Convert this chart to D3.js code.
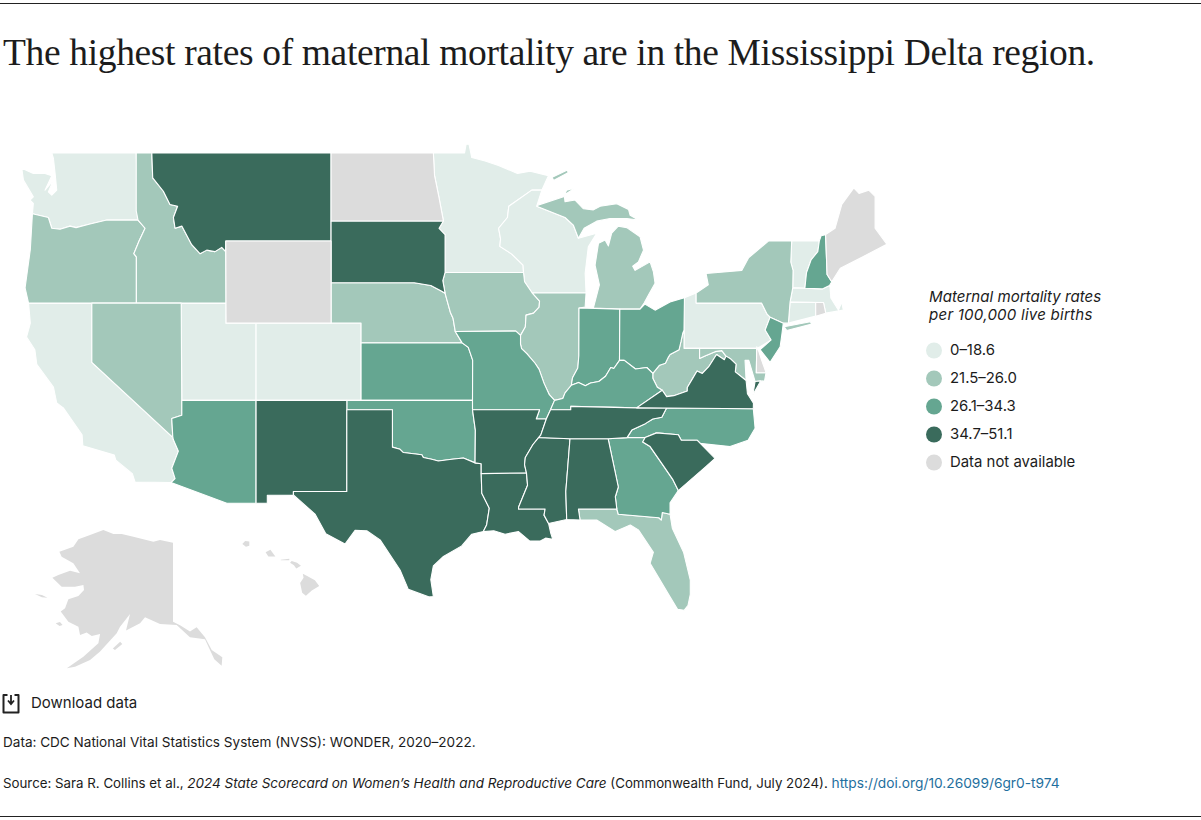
<!DOCTYPE html>
<html>
<head>
<meta charset="utf-8">
<script src="https://cdn.jsdelivr.net/npm/d3@7"></script>
<style>
  body { margin: 0; background: #fff; }
  text { font-family: Inter, "Liberation Sans", sans-serif; fill: #1c1c1c; }
</style>
</head>
<body>
<div class="chart"></div>
<script>
var width = 1201
  , height = 820
  ;

// rate groups, same order as the legend
var legendLabels = ["0–18.6", "21.5–26.0", "26.1–34.3", "34.7–51.1", "Data not available"];
var groupColors = ["#e1ede9", "#a3c8ba", "#65a691", "#3a6b5c", "#dcdcdc"];
var group0 = ["WA", "CA", "UT", "CO", "MN", "WI", "PA", "VT", "MA", "CT"];
var group1 = ["OR", "ID", "NV", "NE", "IA", "IL", "MI", "MI2", "MI3", "NY", "NY2", "WV", "MD", "FL"];
var group2 = ["AZ", "KS", "OK", "MO", "IN", "OH", "KY", "NC", "GA", "NJ", "NH"];
var group3 = ["MT", "SD", "NM", "TX", "AR", "LA", "MS", "AL", "TN", "SC", "VA", "VA2"];
var group4 = ["ND", "WY", "ME", "RI", "DE"];

// shared borders, lon/lat
var columbia = [[-123.96,46.27],[-122.9,46.1],[-122.67,45.6],[-122.12,45.55],[-121.45,45.7],[-121.05,45.63],[-120.12,45.8],[-119,45.98],[-116.92,45.98]];
var snake = [[-116.92,45.98],[-116.45,45.6],[-116.85,45],[-117.2,44.4],[-117.03,44.25],[-117.03,42]];
var idmt = [[-116,49],[-115.94,47.9],[-115.23,47.3],[-114.79,46.7],[-114.28,46.62],[-114.56,46.1],[-114.45,45.6],[-114,45.7],[-113.34,44.83],[-112.79,44.4],[-112.34,44.57],[-111.79,44.5],[-111.34,44.7],[-111.07,44.5]];
var wabash = [[-87.52,41.76],[-87.53,39.35],[-87.6,38.7],[-87.95,38.2],[-88.03,37.8]];
var ohioWest = [[-89.15,37],[-88.6,37.1],[-88.45,37.4],[-88.03,37.8]];
var ohioMid = [[-88.03,37.8],[-87.55,37.95],[-87.1,37.78],[-86.75,37.92],[-86.2,38],[-85.75,38.27],[-85.4,38.73],[-85.2,38.68],[-84.82,39.1]];
var ohioEast1 = [[-84.82,39.1],[-84.5,39.1],[-83.75,38.65],[-83,38.73],[-82.6,38.42]];
var ohioEast2 = [[-82.6,38.42],[-82.15,38.85],[-81.76,38.95],[-81.56,39.27],[-81.45,39.4],[-80.85,39.65],[-80.72,40.07],[-80.6,40.5],[-80.52,40.64]];
var tug = [[-82.6,38.42],[-82.6,38.17],[-82.3,37.7],[-81.97,37.54]];
var vaWv = [[-81.97,37.54],[-81.68,37.2],[-81.2,37.25],[-80.3,37.5],[-80.3,37.68],[-79.95,38.15],[-79.65,38.55],[-79.3,38.42],[-78.87,38.77],[-78.35,39.4],[-77.83,39.13],[-77.72,39.32]];
var missA = [[-90.64,42.5],[-90.15,42.1],[-90.18,41.8],[-90.55,41.5],[-91.05,41.4],[-91.1,40.8],[-91.42,40.38]];
var missB = [[-91.42,40.38],[-91.42,39.93],[-91.35,39.7],[-91,39.45],[-90.45,38.95],[-90.18,38.63],[-89.85,37.9],[-89.5,37.3],[-89.15,37]];
var missC = [[-89.7,36],[-90.07,35.13],[-90.2,35]];
var missD = [[-90.2,35],[-90.6,34.6],[-91.1,33.9],[-91.15,33.5],[-91.02,33.03]];
var missE = [[-91.02,33.03],[-90.95,32.35],[-91.55,31.1],[-91.55,31],[-89.78,31],[-89.85,30.65],[-89.55,30.17]];
var missouri = [[-96.45,42.49],[-96.1,41.55],[-95.92,41.25],[-95.77,40.58],[-95.31,40],[-94.9,39.77],[-94.61,39.11]];
var redRiver = [[-94.45,33.6],[-95.23,33.87],[-96,33.8],[-96.9,33.7],[-97.34,33.8],[-97.9,33.9],[-98,34.05],[-99.23,34.17],[-99.45,34.35],[-99.96,34.47]];
var sabine = [[-94.04,33],[-94,31.9],[-93.5,31.05],[-93.68,30.08],[-93.9,29.7]];
var savannah = [[-83.11,35],[-83.27,34.75],[-82.78,34.5],[-81.9,33.45],[-81.25,32.65],[-80.9,32.05]];
var ncSc = [[-83.11,35],[-82.35,35.25],[-80.9,35.15],[-80.7,34.85],[-79.65,34.85],[-78.45,33.85]];
var tnNc = [[-84.32,34.99],[-84,35.4],[-83.1,35.75],[-82.6,36],[-82,36.1],[-81.68,36.59]];
var mnWi = [[-92.2,46.62],[-92.29,46.1],[-92.88,45.6],[-92.75,45.1],[-92.8,44.75],[-92,44.38],[-91.25,43.85],[-91.22,43.5]];
var redNorth = [[-97.23,49],[-97.15,48],[-96.85,47],[-96.56,45.94]];
var sdMn = [[-96.56,45.94],[-96.85,45.6],[-96.45,45.3],[-96.45,43.5]];
var sdNe = [[-96.45,42.49],[-96.7,42.6],[-97.4,42.87],[-98.5,43],[-104.05,43]];

function rev(a) { return a.slice().reverse(); }

var shapes = {
  WA: [[-122.67,49],[-117.04,49],[-116.92,45.98]].concat(rev(columbia).slice(1), [[-123.9,46.75],[-124.12,46.9],[-123.9,47.05],[-124.56,47.8],[-124.67,48.33],[-123.9,48.1],[-123.12,48.1],[-122.67,48],[-123.12,47.35],[-122.56,47.8],[-122.9,47.27],[-122.67,47.12],[-122.34,47.35],[-122.45,48.1],[-122.56,48.76]]),
  OR: columbia.concat(snake.slice(1), [[-124.22,42],[-124.45,42.75],[-124.1,44.6]]),
  CA: [[-124.22,42],[-120,42],[-120,39],[-114.6,35],[-114.56,34.87],[-114.23,34.25],[-114.67,33.3],[-114.45,32.72],[-114.72,32.5],[-117.12,32.53],[-117.3,33],[-118.4,33.75],[-118.5,34.03],[-120.6,34.55],[-120.65,35.15],[-121.9,36.6],[-122.34,36.86],[-122.56,37.7],[-123.67,38.9],[-123.8,39.65],[-124.35,40.3],[-124.1,41]],
  NV: [[-120,42],[-114.04,42],[-114,36.2],[-114.67,36.03],[-114.6,35],[-120,39]],
  ID: [[-117.04,49],[-116,49]].concat(idmt.slice(1), [[-111.05,42]], rev(snake).slice(0, 6), [[-117.04,46.4]]),
  MT: idmt.concat([[-111.07,45],[-104.05,45],[-104.05,49]]),
  WY: [[-111.07,45],[-104.05,45],[-104.05,41],[-111.05,41]],
  UT: [[-114.04,42],[-111.05,42],[-111.05,41],[-109.05,41],[-109.05,37],[-114,37]],
  CO: [[-109.05,41],[-102.05,41],[-102.05,37],[-109.05,37]],
  AZ: [[-114,37],[-109.05,37],[-109.05,31.33],[-111,31.33],[-114.72,32.5],[-114.45,32.72],[-114.67,33.3],[-114.23,34.25],[-114.56,34.87],[-114.6,35],[-114.67,36.03],[-114,36.2]],
  NM: [[-109.05,37],[-103,37],[-103,32],[-106.56,32],[-106.56,31.8],[-108.3,31.78],[-108.3,31.33],[-109.05,31.33]],
  ND: [[-104.05,49]].concat(redNorth, [[-104.05,45.94]]),
  SD: [[-104.05,45.94]].concat(sdMn, [[-96.6,43.1]], sdNe),
  NE: rev(sdNe).concat(missouri.slice(1, 5), [[-102.05,40],[-102.05,41],[-104.05,41]]),
  KS: [[-102.05,40],[-95.31,40],[-94.9,39.77],[-94.61,39.11],[-94.62,37],[-102.05,37]],
  OK: [[-103,37],[-94.62,37],[-94.62,36.5],[-94.43,35.4]].concat(redRiver, [[-99.96,36.5],[-103,36.5]]),
  TX: [[-103,36.5],[-99.96,36.5]].concat(rev(redRiver), [[-94.04,33.55]], sabine, [[-94.67,29.55],[-95.34,28.87],[-96.56,28.25],[-97.23,27.7],[-97.4,26.88],[-97.23,25.87],[-97.5,25.85],[-98.9,26.3],[-99.45,27.45],[-100.78,29.22],[-101.67,29.75],[-102.45,29.77],[-103.12,28.98],[-104.4,29.57],[-105.12,30.71],[-106.56,31.8],[-106.56,32],[-103,32]]),
  MN: [[-97.23,49],[-95.15,49],[-95.05,49.38],[-94.85,49.38],[-94.67,48.8],[-93.78,48.65],[-92.89,48.45],[-91.62,48.1],[-90.78,48.2],[-89.56,48],[-90,47.35],[-90.67,47.35]].concat(mnWi, rev(sdMn), rev(redNorth).slice(1)),
  IA: [[-96.45,43.5],[-91.22,43.5],[-91.15,43.05]].concat(missA, [[-91.73,40.6],[-95.77,40.58],[-95.92,41.25],[-96.1,41.55],[-96.45,42.49],[-96.6,43.1]]),
  MO: [[-95.77,40.58],[-91.73,40.6]].concat(missB, [[-89.42,36.5],[-89.7,36],[-90.37,36],[-90.15,36.5],[-94.62,36.5],[-94.62,37],[-94.61,39.11],[-94.9,39.77],[-95.31,40]]),
  AR: [[-94.62,36.5],[-90.15,36.5],[-90.37,36]].concat(missC, missD.slice(1), [[-94.04,33],[-94.04,33.55],[-94.45,33.6],[-94.43,35.4]]),
  LA: [[-94.04,33]].concat([[-91.02,33.03]], missE.slice(1), [[-89.4,29.6],[-89.27,29.25],[-89.75,29.32],[-90.1,29.15],[-90.8,29.15],[-91.55,29.7],[-92.45,29.55],[-93.2,29.75]], rev(sabine)),
  MS: [[-90.2,35],[-88.12,34.93],[-88.4,32],[-88.34,30.4],[-89.55,30.17]].concat(rev(missE), rev(missD).slice(1)),
  AL: [[-88.12,34.93],[-85.58,34.93],[-84.9,32.25],[-85.1,31.7],[-85,31],[-87.56,31],[-87.45,30.37],[-88.34,30.4],[-88.4,32]],
  TN: [[-89.42,36.5],[-88.07,36.5],[-88.07,36.68],[-83.68,36.6],[-81.68,36.59]].concat(rev(tnNc), [[-85.58,34.93],[-88.12,34.93],[-90.2,35],[-90.07,35.13],[-89.7,36]]),
  KY: ohioWest.concat(ohioMid.slice(1), ohioEast1.slice(1), tug.slice(1), [[-83.68,36.6],[-88.07,36.68],[-88.07,36.5],[-89.42,36.5]]),
  IL: [[-90.64,42.5],[-87.05,42.5],[-87.11,41.8]].concat(wabash, rev(ohioWest).slice(1), rev(missB).slice(1), rev(missA).slice(1)),
  IN: wabash.concat(ohioMid.slice(1), [[-84.8,41.7]]),
  OH: [[-84.8,41.7],[-83.45,41.7],[-83.13,41.95],[-82.45,41.65],[-81.45,42.05],[-80.49,42.27]].concat(rev(ohioEast2), rev(ohioEast1).slice(1)),
  WI: mnWi.concat([[-91.15,43.05],[-90.64,42.5],[-87.05,42.5],[-87.11,43.46],[-86.9,44.73],[-86.34,45.37],[-87.56,45.13],[-87.9,45.75],[-88.45,46.1],[-90.34,46.62],[-90,47.35],[-90.67,47.35]]),
  MI: [[-86.56,41.76],[-86.16,42.9],[-86.45,43.85],[-86.22,44.9],[-85.78,45.05],[-85.56,44.77],[-85.34,45.37],[-84.9,45.7],[-84.34,45.63],[-83.45,45.2],[-83.22,44.57],[-83.56,44.01],[-83.94,43.8],[-83.78,43.6],[-82.78,44.01],[-82.56,43.53],[-82.45,42.98],[-82.89,42.4],[-83.18,42],[-83.45,41.7],[-84.8,41.7]],
  MI2: [[-90.34,46.62],[-88.45,46.1],[-87.9,45.75],[-87.56,45.13],[-87.18,45.6],[-86.34,45.93],[-85.45,46.05],[-84.34,46.05],[-83.56,45.98],[-84.11,46.2],[-84.22,46.47],[-85,46.73],[-86.11,46.62],[-86.56,46.45],[-87.22,46.5],[-87.78,46.9],[-88.45,46.82],[-88.51,47.13],[-87.78,47.45],[-88.34,47.35],[-88.55,47.05],[-90.2,46.68]],
  MI3: [[-89.31,47.93],[-88.29,48.25],[-88.25,48.13],[-89.22,47.78]],
  WV: [[-80.52,40.64],[-80.52,39.72],[-79.48,39.72],[-79.48,39.2],[-79.2,39.3],[-78.45,39.55],[-78,39.6]].concat(rev(vaWv), rev(tug).slice(1), ohioEast2.slice(1)),
  VA: vaWv.concat([[-77.45,39.2],[-77.05,38.9],[-77.1,38.5],[-76.38,38.05],[-76.29,37.35],[-75.89,36.85],[-75.9,36.55],[-81.68,36.59],[-83.68,36.6]]),
  VA2: [[-75.4,38.03],[-75.93,37.3],[-75.78,38]],
  NC: [[-75.9,36.55],[-81.68,36.59]].concat(rev(tnNc).slice(1), rev(ncSc), [[-77.45,34.5],[-76.25,34.85],[-75.78,35.5]]),
  SC: ncSc.concat([[-79.12,33.35]], rev(savannah)),
  GA: [[-85.58,34.93],[-84.32,34.99]].concat(savannah, [[-81.45,31.35],[-81.45,30.7],[-81.97,30.8],[-82.03,30.37],[-82.2,30.5],[-84.9,30.7],[-85,31],[-85.1,31.7],[-84.9,32.25]]),
  FL: [[-87.56,31],[-85,31],[-84.9,30.7],[-82.2,30.5],[-82.03,30.37],[-81.97,30.8],[-81.45,30.7],[-81.3,29.9],[-80.55,28.5],[-80.1,26.85],[-80.1,26],[-80.25,25.35],[-80.5,25.05],[-80.95,25.1],[-81.45,25.85],[-82.78,27.85],[-82.56,28.5],[-83.56,29.8],[-84.1,30.08],[-85.1,29.7],[-86.34,30.37],[-87.45,30.37]],
  PA: [[-80.49,42.27],[-79.71,42.5],[-79.71,42],[-75.35,42],[-74.98,41.45],[-74.78,41.3],[-75.11,40.65],[-74.71,40.15],[-75.45,39.8],[-75.67,39.72],[-80.52,39.72],[-80.52,40.64]],
  NY: [[-79.71,42],[-79.71,42.5],[-78.9,42.9],[-79.05,43.45],[-76.67,43.6],[-76.22,44.2],[-74.89,45],[-73.34,45],[-73.4,44],[-73.25,43.6],[-73.27,42.75],[-73.45,42.05],[-73.56,41],[-73.9,41],[-74.78,41.3],[-74.98,41.45],[-75.35,42]],
  NY2: [[-73.84,40.82],[-72.1,41.07],[-72,40.95],[-73.67,40.63]],
  NJ: [[-74.78,41.3],[-73.9,41],[-74,40.4],[-74.11,39.8],[-74.78,39],[-75.45,39.65],[-74.71,40.15],[-75.11,40.65]],
  DE: [[-75.67,39.8],[-75.55,39.6],[-75.34,39.1],[-75.05,38.46],[-75.7,38.46]],
  MD: [[-79.48,39.72],[-75.67,39.72],[-75.7,38.46],[-75.05,38.46],[-75.15,38.03],[-75.78,38],[-76.2,39.1],[-76.45,39.1],[-76.38,38.05],[-77.1,38.5],[-77.05,38.9],[-77.45,39.2],[-77.72,39.32],[-78,39.6],[-78.45,39.55],[-79.2,39.3],[-79.48,39.2]],
  CT: [[-73.45,42.05],[-71.74,42.03],[-71.74,41.35],[-73.56,41]],
  RI: [[-71.74,42.03],[-71.22,42.03],[-71.07,41.5],[-71.74,41.35]],
  MA: [[-73.45,42.05],[-73.27,42.75],[-72.46,42.73],[-71.3,42.7],[-70.82,42.87],[-70.78,42.75],[-70.73,42.25],[-70.22,41.65],[-70,42.05],[-69.9,41.65],[-71.07,41.5],[-71.22,42.03]],
  VT: [[-73.34,45],[-71.5,45],[-71.6,44.5],[-72.05,44.1],[-72.35,43.5],[-72.46,42.73],[-73.27,42.75],[-73.25,43.6],[-73.4,44]],
  NH: [[-71.5,45],[-71.38,45.25],[-71.08,45.3],[-70.98,43.4],[-70.67,43.05],[-70.82,42.87],[-71.3,42.7],[-72.46,42.73],[-72.35,43.5],[-72.05,44.1],[-71.6,44.5]],
  ME: [[-71.08,45.3],[-70.45,45.6],[-70,46.7],[-69.2,47.45],[-68.85,47.2],[-68.2,47.35],[-67.78,47.07],[-67.78,45.6],[-67,44.85],[-68.56,44.27],[-70.1,43.7],[-70.67,43.05],[-70.98,43.4]]
};

var alaska = [
  [[-141,69.64],[-141,60.12],[-139.37,59.68],[-137.05,58.92],[-135.5,59.44],[-133.56,58.23],[-132,56.71],[-129.53,55.82],[-129.68,54.82],[-131.39,55.58],[-133.56,58],[-137.05,58.23],[-140.15,59.72],[-144.02,59.84],[-147.51,60.64],[-148.67,59.92],[-151.93,59.04],[-151,61.04],[-153.32,59.52],[-154.1,58.72],[-157.97,56.51],[-160.3,55.5],[-163.8,54.7],[-165.7,54.5],[-161.85,55.9],[-158.36,57.51],[-157.97,58.63],[-159.91,58.39],[-161.08,58.8],[-162.63,58.52],[-163,59.52],[-165.34,60.12],[-167.12,61.33],[-166.11,61.73],[-165.34,62.81],[-163,63.21],[-161.7,63.94],[-161.85,64.54],[-163.8,64.34],[-166.9,64.34],[-169.06,65.42],[-167.66,65.74],[-164.95,66.27],[-162.63,65.95],[-164.18,67.15],[-166.9,67.95],[-167.43,68.55],[-164.18,69.16],[-163,70.04],[-160.3,70.56],[-157.2,71.17],[-154.87,70.68],[-152.94,70.68],[-150.22,70.36],[-145.57,69.76],[-144.02,69.96]],
  [[-173.1,63.45],[-171.5,63.33],[-170.2,63],[-171.5,63.05]],
  [[-168.3,59.92],[-167.3,60.08],[-166.7,59.72],[-167.4,59.6]],
  [[-155,56.9],[-153.3,57.71],[-152.8,57.43],[-154.5,56.71]]
];

var hawaii = [
  [[-155.88,20.26],[-155.6,20.12],[-155.1,19.87],[-154.82,19.52],[-155.3,19.25],[-155.68,18.92],[-155.92,19.1],[-156.05,19.7],[-155.83,20.02]],
  [[-156.7,20.92],[-156.6,21.03],[-156.25,20.93],[-156,20.75],[-156.3,20.58],[-156.45,20.78]],
  [[-157.3,21.1],[-156.75,21.17],[-156.75,21.08],[-157.3,21.08]],
  [[-158.28,21.55],[-157.97,21.7],[-157.65,21.3],[-157.95,21.3],[-158.1,21.3]],
  [[-159.78,22.05],[-159.6,22.23],[-159.33,22.2],[-159.33,21.95],[-159.55,21.88]]
];

var svg = d3.select(".chart").append("svg")
    .attr("width", width)
    .attr("height", height)
    .style("display", "block");

svg.append("line").attr("x1", 0).attr("x2", width).attr("y1", 3.5).attr("y2", 3.5).attr("stroke", "#222");
svg.append("line").attr("x1", 0).attr("x2", width).attr("y1", 816.5).attr("y2", 816.5).attr("stroke", "#222");

svg.append("text")
    .attr("x", 3)
    .attr("y", 65)
    .style("font-family", '"Liberation Serif", serif')
    .style("font-size", "37.5px")
    .style("letter-spacing", "-0.35px")
    .text("The highest rates of maternal mortality are in the Mississippi Delta region.");

// mainland and Hawaii are mercator, Alaska is squeezed on its own
var projection = d3.geoMercator().scale(859.4).translate([1891.75, 998.5]);
var hawaiiProjection = d3.geoMercator().scale(888).translate([2718.7, 894.5]);
var akX = d3.scaleLinear().domain([-141, -129.53]).range([173, 222.3]);
var akY = d3.scaleLinear().domain([69.6, 54.8]).range([543, 665.8]);

var mainPath = d3.line()
    .x(function(d) { return projection(d)[0]; })
    .y(function(d) { return projection(d)[1]; })
    .curve(d3.curveLinearClosed);
var hawaiiPath = d3.line()
    .x(function(d) { return hawaiiProjection(d)[0]; })
    .y(function(d) { return hawaiiProjection(d)[1]; })
    .curve(d3.curveLinearClosed);
var alaskaPath = d3.line()
    .x(function(d) { return akX(d[0]); })
    .y(function(d) { return akY(d[1]); })
    .curve(d3.curveLinearClosed);

var groups = [group0, group1, group2, group3, group4];
var rows = [];
groups.forEach(function(ids, i) {
  ids.forEach(function(id) { rows.push({ id: id, group: i }); });
});

var map = svg.append("g").attr("class", "map");

map.selectAll("path.state")
    .data(rows)
  .enter().append("path")
    .attr("class", "state")
    .attr("d", function(d) { return mainPath(shapes[d.id]); })
    .attr("fill", function(d) { return groupColors[d.group]; })
    .attr("stroke", "#fff")
    .attr("stroke-width", 1.1)
    .attr("stroke-linejoin", "round");

map.selectAll("path.alaska")
    .data(alaska)
  .enter().append("path")
    .attr("class", "alaska")
    .attr("d", alaskaPath)
    .attr("fill", groupColors[4]);

map.selectAll("path.hawaii")
    .data(hawaii)
  .enter().append("path")
    .attr("class", "hawaii")
    .attr("d", hawaiiPath)
    .attr("fill", groupColors[4]);

// legend
var legend = svg.append("g").attr("class", "legend");

legend.selectAll("text.head")
    .data(["Maternal mortality rates", "per 100,000 live births"])
  .enter().append("text")
    .attr("class", "head")
    .attr("x", 929)
    .attr("y", function(d, i) { return 302 + i * 18; })
    .style("font-size", "15.1px")
    .style("font-style", "italic")
    .style("letter-spacing", function(d, i) { return i ? "0.22px" : "0"; })
    .text(function(d) { return d; });

var legendRow = d3.scaleLinear().domain([0, 4]).range([350.5, 462.5]);

legend.selectAll("circle")
    .data(legendLabels)
  .enter().append("circle")
    .attr("cx", 934)
    .attr("cy", function(d, i) { return legendRow(i); })
    .attr("r", 8)
    .attr("fill", function(d, i) { return groupColors[i]; });

legend.selectAll("text.item")
    .data(legendLabels)
  .enter().append("text")
    .attr("class", "item")
    .attr("x", 950)
    .attr("y", function(d, i) { return legendRow(i) + 4; })
    .style("font-size", "14.9px")
    .text(function(d) { return d; });

// footer
svg.append("path")
    .attr("d", "M7.5,695H3.5V712.5H18.5V695H14.5")
    .attr("fill", "none")
    .attr("stroke", "#222")
    .attr("stroke-width", 2)
    .attr("stroke-linejoin", "round");
svg.append("path")
    .attr("d", "M11,695V703M8,700.5L11,704L14,700.5")
    .attr("fill", "none")
    .attr("stroke", "#222")
    .attr("stroke-width", 1.8);

svg.append("text")
    .attr("x", 31)
    .attr("y", 708)
    .style("font-size", "15px")
    .text("Download data");

svg.append("text")
    .attr("x", 3)
    .attr("y", 747)
    .style("font-size", "13.55px")
    .text("Data: CDC National Vital Statistics System (NVSS): WONDER, 2020–2022.");

var source = svg.append("text")
    .attr("x", 3)
    .attr("y", 788)
    .style("font-size", "13.3px");
source.append("tspan").text("Source: Sara R. Collins et al., ");
source.append("tspan").style("font-style", "italic").style("font-size", "13.5px").text("2024 State Scorecard on Women’s Health and Reproductive Care");
source.append("tspan").text(" (Commonwealth Fund, July 2024). ");
source.append("tspan").style("fill", "#1f6f9e").style("font-size", "13.75px").text("https://doi.org/10.26099/6gr0-t974");
</script>
</body>
</html>
